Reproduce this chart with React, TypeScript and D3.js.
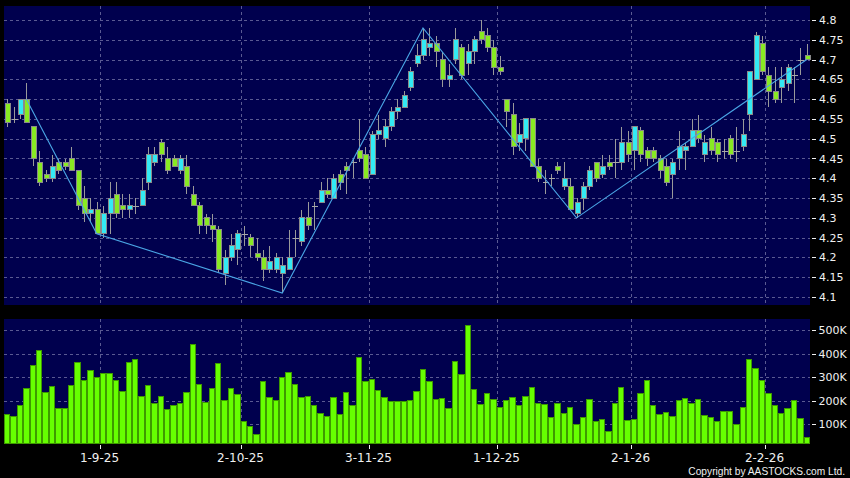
import React from "react";
import * as d3 from "d3";

const dates: string[] = [
  "2025-08-11","2025-08-12","2025-08-13","2025-08-14","2025-08-15","2025-08-18","2025-08-19","2025-08-20","2025-08-21","2025-08-22",
  "2025-08-25","2025-08-26","2025-08-27","2025-08-28","2025-08-29","2025-09-01","2025-09-02","2025-09-03","2025-09-04","2025-09-05",
  "2025-09-08","2025-09-09","2025-09-10","2025-09-11","2025-09-12","2025-09-15","2025-09-16","2025-09-17","2025-09-18","2025-09-19",
  "2025-09-22","2025-09-23","2025-09-24","2025-09-25","2025-09-26","2025-09-29","2025-09-30","2025-10-02","2025-10-03","2025-10-06",
  "2025-10-08","2025-10-09","2025-10-10","2025-10-13","2025-10-14","2025-10-15","2025-10-16","2025-10-17","2025-10-20","2025-10-21",
  "2025-10-22","2025-10-23","2025-10-24","2025-10-27","2025-10-28","2025-10-30","2025-10-31","2025-11-03","2025-11-04","2025-11-05",
  "2025-11-06","2025-11-07","2025-11-10","2025-11-11","2025-11-12","2025-11-13","2025-11-14","2025-11-17","2025-11-18","2025-11-19",
  "2025-11-20","2025-11-21","2025-11-24","2025-11-25","2025-11-26","2025-11-27","2025-11-28","2025-12-01","2025-12-02","2025-12-03",
  "2025-12-04","2025-12-05","2025-12-08","2025-12-09","2025-12-10","2025-12-11","2025-12-12","2025-12-15","2025-12-16","2025-12-17",
  "2025-12-18","2025-12-19","2025-12-22","2025-12-23","2025-12-24","2025-12-29","2025-12-30","2025-12-31","2026-01-02","2026-01-05",
  "2026-01-06","2026-01-07","2026-01-08","2026-01-09","2026-01-12","2026-01-13","2026-01-14","2026-01-15","2026-01-16","2026-01-19",
  "2026-01-20","2026-01-21","2026-01-22","2026-01-23","2026-01-26","2026-01-27","2026-01-28","2026-01-29","2026-01-30","2026-02-02",
  "2026-02-03","2026-02-04","2026-02-05","2026-02-06","2026-02-09","2026-02-10"
];

const openP: number[] = [
  4.59,4.55,4.56,4.60,4.53,4.44,4.41,4.40,4.44,4.44, 4.45,4.42,4.35,4.31,4.32,4.26,4.31,4.36,4.33,4.32,
  4.33,4.33,4.39,4.44,4.49,4.45,4.45,4.42,4.43,4.36, 4.33,4.30,4.28,4.27,4.16,4.20,4.22,4.26,4.25,4.21,
  4.20,4.17,4.17,4.16,4.17,4.25,4.24,4.30,4.33,4.34, 4.37,4.35,4.41,4.43,4.44,4.47,4.46,4.41,4.51,4.50,
  4.53,4.57,4.58,4.63,4.69,4.71,4.73,4.74,4.70,4.65, 4.70,4.73,4.69,4.72,4.77,4.76,4.73,4.68,4.60,4.56,
  4.49,4.50,4.55,4.43,4.39,4.40,4.43,4.38,4.38,4.31, 4.35,4.38,4.44,4.41,4.44,4.44,4.44,4.49,4.47,4.52,
  4.47,4.47,4.45,4.43,4.41,4.45,4.47,4.48,4.52,4.46, 4.50,4.49,4.47,4.50,4.47,4.48,4.56,4.65,4.74,4.66,
  4.62,4.63,4.64,4.66,4.70,4.71
];
const highP: number[] = [
  4.60,4.58,4.60,4.64,4.53,4.47,4.42,4.46,4.45,4.45, 4.48,4.42,4.38,4.35,4.34,4.33,4.39,4.39,4.36,4.36,
  4.35,4.40,4.48,4.48,4.50,4.48,4.46,4.46,4.46,4.38, 4.34,4.31,4.31,4.28,4.22,4.26,4.27,4.28,4.26,4.25,
  4.22,4.23,4.21,4.20,4.27,4.27,4.32,4.34,4.34,4.39, 4.40,4.41,4.42,4.44,4.45,4.55,4.48,4.52,4.56,4.55,
  4.58,4.60,4.62,4.68,4.74,4.78,4.78,4.76,4.72,4.69, 4.78,4.74,4.74,4.76,4.80,4.78,4.75,4.71,4.60,4.59,
  4.54,4.55,4.55,4.45,4.42,4.41,4.44,4.44,4.40,4.35, 4.39,4.43,4.44,4.46,4.46,4.50,4.53,4.52,4.53,4.53,
  4.48,4.48,4.46,4.45,4.45,4.52,4.49,4.55,4.56,4.51, 4.53,4.50,4.50,4.51,4.53,4.55,4.67,4.77,4.76,4.68,
  4.68,4.68,4.69,4.68,4.73,4.74
];
const lowP: number[] = [
  4.53,4.54,4.55,4.54,4.43,4.38,4.39,4.39,4.41,4.42, 4.42,4.32,4.29,4.29,4.26,4.25,4.26,4.30,4.30,4.30,
  4.31,4.33,4.37,4.43,4.44,4.41,4.43,4.41,4.36,4.33, 4.26,4.26,4.24,4.16,4.13,4.19,4.18,4.23,4.20,4.19,
  4.14,4.16,4.16,4.11,4.17,4.20,4.23,4.27,4.27,4.34, 4.35,4.35,4.37,4.36,4.40,4.44,4.40,4.41,4.50,4.48,
  4.52,4.55,4.58,4.62,4.68,4.70,4.71,4.68,4.63,4.63, 4.69,4.65,4.66,4.69,4.74,4.72,4.66,4.66,4.53,4.46,
  4.47,4.47,4.43,4.39,4.36,4.38,4.41,4.37,4.32,4.30, 4.32,4.37,4.39,4.40,4.42,4.40,4.42,4.44,4.42,4.44,
  4.43,4.44,4.40,4.38,4.35,4.42,4.42,4.48,4.49,4.44, 4.46,4.44,4.45,4.45,4.44,4.47,4.52,4.65,4.66,4.58,
  4.59,4.59,4.62,4.59,4.66,4.70
];
const closeP: number[] = [
  4.54,4.55,4.60,4.54,4.45,4.39,4.40,4.43,4.42,4.43, 4.42,4.33,4.31,4.32,4.26,4.31,4.35,4.31,4.32,4.33,
  4.33,4.37,4.46,4.46,4.46,4.42,4.43,4.45,4.38,4.33, 4.28,4.28,4.27,4.17,4.20,4.23,4.26,4.26,4.23,4.20,
  4.17,4.19,4.20,4.18,4.20,4.25,4.30,4.28,4.33,4.37, 4.36,4.40,4.39,4.42,4.44,4.45,4.40,4.51,4.52,4.53,
  4.57,4.58,4.61,4.67,4.71,4.75,4.74,4.72,4.65,4.66, 4.75,4.66,4.72,4.75,4.75,4.73,4.68,4.67,4.57,4.48,
  4.51,4.55,4.43,4.40,4.39,4.40,4.42,4.40,4.32,4.34, 4.38,4.42,4.40,4.43,4.43,4.44,4.49,4.46,4.53,4.46,
  4.45,4.45,4.42,4.39,4.44,4.48,4.48,4.52,4.50,4.49, 4.47,4.46,4.47,4.46,4.47,4.51,4.67,4.76,4.67,4.62,
  4.60,4.65,4.68,4.66,4.70,4.70
];

const volumeK: number[] = [
  141,131,177,252,351,411,232,260,164,164, 265,363,286,326,297,314,317,283,239,363,
  374,216,263,188,219,163,180,189,233,440, 270,192,252,358,198,252,225,111,90,57,
  282,214,199,300,321,269,212,218,177,143, 134,214,141,232,177,384,279,291,243,211,
  195,195,194,199,237,333,280,205,209,164, 365,311,521,245,185,231,206,169,202,214,
  178,219,255,189,185,127,186,143,169,100, 126,205,109,118,66,189,256,114,120,231,
  284,178,141,151,130,202,209,188,205,135, 127,111,155,155,99,169,375,337,284,229,
  180,143,168,202,124,42
];

const priceTicks: number[] = [4.1,4.15,4.2,4.25,4.3,4.35,4.4,4.45,4.5,4.55,4.6,4.65,4.7,4.75,4.8];
const volumeTicks: number[] = [100,200,300,400,500];
const zigIdx: number[] = [3,14,43,65,89,125];
const zigVal: number[] = [4.60,4.26,4.11,4.78,4.30,4.70];

const UP = "#33eaf4";
const DOWN = "#88ea22";
const NAVY = "#00004e";
const GRID = "#5a5a92";
const TXT = "#f0f0f0";
const FONT = "'DejaVu Sans', Verdana, sans-serif";

export default function App() {
  const W = 850, H = 478;
  const left = 4, right = 810;
  const pTop = 6, pBottom = 305, vTop = 319, vBottom = 443;
  const idx = d3.range(dates.length);
  const xEdge = d3.scaleBand<number>().domain(idx).range([left, right]);
  const step = xEdge.step();
  const cx = (i: number) => (xEdge(i) as number) + step / 2;
  const y = d3.scaleLinear().domain([4.1, 4.8]).range([297, 20]);
  const yv = d3.scaleLinear().domain([0, 500]).range([447.5, 330]);
  const bodyW = 5;

  const monthStarts = idx.filter(i => i > 0 && dates[i].slice(0, 7) !== dates[i - 1].slice(0, 7));
  const fmtDate = (s: string) => {
    const [yy, mm, dd] = s.split("-");
    return `${+dd}-${+mm}-${yy.slice(2)}`;
  };
  const fmtP = (v: number) => String(+v.toFixed(2));

  const zig = d3.line<number>()
    .x((_, k) => cx(zigIdx[k]))
    .y((_, k) => y(zigVal[k]));

  return (
    <svg width={W} height={H} style={{ position: "absolute", left: 0, top: 0, display: "block" }}>
      <rect x={0} y={0} width={W} height={H} fill="#000" />
      <rect x={left} y={pTop} width={right - left} height={pBottom - pTop} fill={NAVY} />
      <rect x={left} y={vTop} width={right - left} height={vBottom - vTop} fill={NAVY} />

      {/* grid */}
      <g shapeRendering="crispEdges" stroke={GRID} strokeDasharray="3,3" strokeWidth={1}>
        {priceTicks.map(t => (
          <line key={"pg" + t} x1={left} x2={right} y1={Math.round(y(t)) + 0.5} y2={Math.round(y(t)) + 0.5} />
        ))}
        {volumeTicks.map(t => (
          <line key={"vg" + t} x1={left} x2={right} y1={Math.round(yv(t)) + 0.5} y2={Math.round(yv(t)) + 0.5} />
        ))}
        {monthStarts.map(i => (
          <g key={"vx" + i}>
            <line x1={Math.round(xEdge(i) as number) + 0.5} x2={Math.round(xEdge(i) as number) + 0.5} y1={pTop} y2={pBottom} />
            <line x1={Math.round(xEdge(i) as number) + 0.5} x2={Math.round(xEdge(i) as number) + 0.5} y1={vTop} y2={vBottom} />
          </g>
        ))}
      </g>

      {/* candles */}
      <g shapeRendering="crispEdges">
        {idx.map(i => {
          const o = openP[i], c = closeP[i], h = highP[i], l = lowP[i];
          const x = Math.round(cx(i)) + 0.5;
          const up = c > o;
          const top = y(Math.max(o, c)), bot = y(Math.min(o, c));
          return (
            <g key={"c" + i}>
              <line x1={x} x2={x} y1={y(h)} y2={y(l)} stroke="#9a9a9a" strokeWidth={1} />
              {o === c ? (
                <line x1={x - 3} x2={x + 3} y1={Math.round(y(o)) + 0.5} y2={Math.round(y(o)) + 0.5} stroke="#a8a8a8" strokeWidth={1} />
              ) : (
                <rect x={x - bodyW / 2} y={top} width={bodyW} height={Math.max(1, bot - top)}
                  fill={up ? UP : DOWN} stroke="#8a8a8a" strokeWidth={1} />
              )}
            </g>
          );
        })}
      </g>

      {/* zigzag line */}
      <path d={zig(zigIdx) || ""} fill="none" stroke="#4aa6e6" strokeWidth={1.1} />

      {/* volume bars */}
      <g shapeRendering="crispEdges">
        {idx.map(i => (
          <rect key={"v" + i} x={(xEdge(i) as number) + 0.5} y={yv(volumeK[i])} width={step - 1}
            height={vBottom - yv(volumeK[i])} fill="#66ff00" stroke="#3e9a00" strokeWidth={1} />
        ))}
      </g>

      {/* right axis labels */}
      <g fontFamily={FONT} fontSize={11} fill={TXT}>
        {priceTicks.map(t => (
          <g key={"pl" + t}>
            <line x1={812} x2={816} y1={Math.round(y(t)) + 0.5} y2={Math.round(y(t)) + 0.5} stroke={TXT} shapeRendering="crispEdges" />
            <text x={819} y={y(t) + 4}>{fmtP(t)}</text>
          </g>
        ))}
        {volumeTicks.map(t => (
          <g key={"vl" + t}>
            <line x1={812} x2={816} y1={Math.round(yv(t)) + 0.5} y2={Math.round(yv(t)) + 0.5} stroke={TXT} shapeRendering="crispEdges" />
            <text x={818.5} y={yv(t) + 4}>{`${t}K`}</text>
          </g>
        ))}
      </g>

      {/* x axis */}
      <g fontFamily={FONT} fontSize={12} fill={TXT}>
        {monthStarts.map(i => {
          const xx = Math.round(xEdge(i) as number) + 0.5;
          return (
            <g key={"xl" + i}>
              <line x1={xx} x2={xx} y1={445} y2={449} stroke={TXT} shapeRendering="crispEdges" />
              <text x={xx - 1} y={462} textAnchor="middle">{fmtDate(dates[i])}</text>
            </g>
          );
        })}
      </g>

      <text x={845} y={475} textAnchor="end" fontFamily="'Liberation Sans', Arial, sans-serif" fontSize={10.2} fill={TXT}>
        Copyright by AASTOCKS.com Ltd.
      </text>
    </svg>
  );
}
